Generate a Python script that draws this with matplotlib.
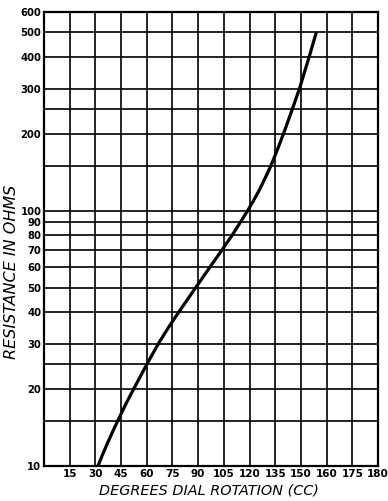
import matplotlib.pyplot as plt
from matplotlib.ticker import FixedLocator, NullFormatter, NullLocator

# curve: dial degrees vs resistance in ohms
dialDeg = [31.5, 34.0, 36.4, 39.8, 43.0, 47.8, 52.3, 60.0, 66.6, 72.8, 78.6, 88.6,
           96.8, 103.8, 109.8, 114.6, 118.9, 122.5, 125.6, 129.3, 132.5, 136.5,
           139.8, 145.0, 149.1, 154.8, 159.0]
ohms = [10, 11, 12, 13.5, 15, 17.5, 20, 25, 30, 35, 40, 50,
        60, 70, 80, 90, 100, 110, 120, 135, 150, 175,
        200, 250, 300, 400, 500]

xGrid = [15 * i for i in range(14)]
xTickLabels = ["15", "30", "45", "60", "75", "90", "105", "120", "135", "150", "160", "175", "180"]
yLabelled = [10, 20, 30, 40, 50, 60, 70, 80, 90, 100, 200, 300, 400, 500, 600]
yUnlabelled = [15, 25, 150, 250]

fig = plt.figure(figsize=(3.88, 5.01), dpi=100)
ax = fig.add_axes([0.1134, 0.0699, 0.8608, 0.9061])

ax.set_yscale("log")
ax.set_xlim(0, 195)
ax.set_ylim(10, 600)

for x in xGrid[1:-1]:
    ax.axvline(x, color="black", linewidth=1.2, zorder=1)
for y in sorted(yLabelled[1:-1] + yUnlabelled):
    ax.axhline(y, color="black", linewidth=1.2, zorder=1)

ax.plot(dialDeg, ohms, color="black", linewidth=2.3, solid_capstyle="butt",
        solid_joinstyle="round", zorder=3)

ax.xaxis.set_major_locator(FixedLocator(xGrid[1:]))
ax.set_xticklabels(xTickLabels)
ax.yaxis.set_major_locator(FixedLocator(yLabelled))
ax.yaxis.set_minor_locator(NullLocator())
ax.yaxis.set_minor_formatter(NullFormatter())
ax.set_yticklabels([str(v) for v in yLabelled])

ax.tick_params(axis="x", length=0, labelsize=7.5, pad=2)
ax.tick_params(axis="y", length=0, labelsize=7.2, pad=2)
for lbl in ax.get_xticklabels() + ax.get_yticklabels():
    lbl.set_fontweight("bold")

for sp in ax.spines.values():
    sp.set_linewidth(1.6)

fig.text(209 / 388, 1 - 490 / 501, "DEGREES DIAL ROTATION (CC)", fontsize=10.4,
         style="italic", ha="center", va="center")
fig.text(12 / 388, 1 - 272 / 501, "RESISTANCE IN OHMS", fontsize=11.5, style="italic",
         rotation=90, ha="center", va="center")

fig.savefig("out.png", dpi=100)
